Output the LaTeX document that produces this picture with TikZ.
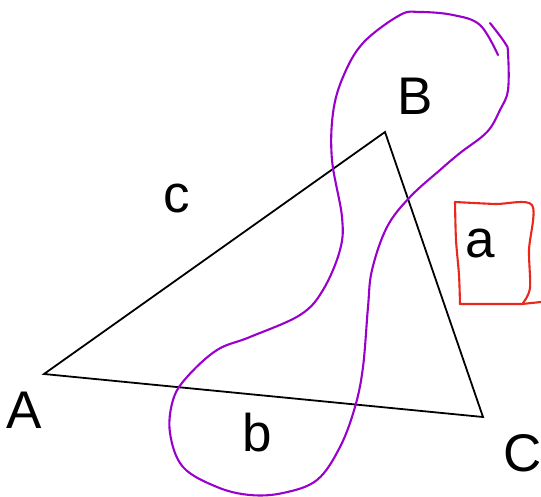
\documentclass[tikz,border=0pt]{standalone}
\usepackage{fontspec}
\setmainfont{Liberation Sans}
\usepackage{tikz}
\usetikzlibrary{positioning, calc}
\definecolor{penpurple}{RGB}{153, 0, 204}
\definecolor{penred}{RGB}{232, 40, 28}

\tikzset{
    vertexlabel/.style={font=\fontsize{53}{53}\selectfont, inner sep=0pt},
    sidelabel/.style={font=\fontsize{53}{53}\selectfont, inner sep=0pt},
    edge/.style={line width=1.8pt, black},
    pen/.style={line width=2.1pt, line cap=round, line join=round}
}

\begin{document}
\begin{tikzpicture}[x=1pt, y=-1pt]
    \useasboundingbox (0, 0) rectangle (541, 496);

    % Triangle corners
    \coordinate (A) at (44, 374);
    \coordinate (B) at (385, 132);
    \coordinate (C) at (483, 417);
    \draw[edge] (A) -- (B) -- (C) -- cycle;

    % Corner and side names
    \node[vertexlabel] (labA) at (24, 410) {A};
    \node[vertexlabel] (labB) at (415, 96) {B};
    \node[vertexlabel] (labC) at (523, 453) {C};
    \node[sidelabel] (labc) at (177, 198) {c};
    \node[sidelabel] (labb) at (257, 433) {b};
    \node[sidelabel] (laba) at (480, 243) {a};

    % Hand drawn loop round B and b
    \draw[pen, penpurple] plot[smooth, tension=0.6] coordinates {
        (498, 55) (480, 25) (453, 15) (420, 12) (400, 15) (363, 43) (343, 77)
        (333, 113) (332, 160) (342, 217) (340, 250) (323, 290) (300, 315)
        (250, 337) (217, 350) (187, 377) (173, 400) (170, 433) (183, 467)
        (217, 487) (250, 495) (283, 493) (317, 480) (340, 447) (355, 407)
        (363, 367) (368, 307) (372, 270) (387, 227) (410, 197) (440, 170)
        (460, 153) (487, 132) (500, 110) (508, 90) (508, 53) (505, 43) (490, 23)};

    % Hand drawn box round a
    \draw[pen, penred] plot[smooth, tension=0.5] coordinates {
        (455, 202) (495, 204) (532, 205) (529, 250) (530, 288) (523, 303)};
    \draw[pen, penred] plot[smooth, tension=0.5] coordinates {
        (455, 202) (456, 240) (459, 275) (460, 304)};
    \draw[pen, penred] (460, 304) -- (522, 304) -- (541, 302);
\end{tikzpicture}
\end{document}
